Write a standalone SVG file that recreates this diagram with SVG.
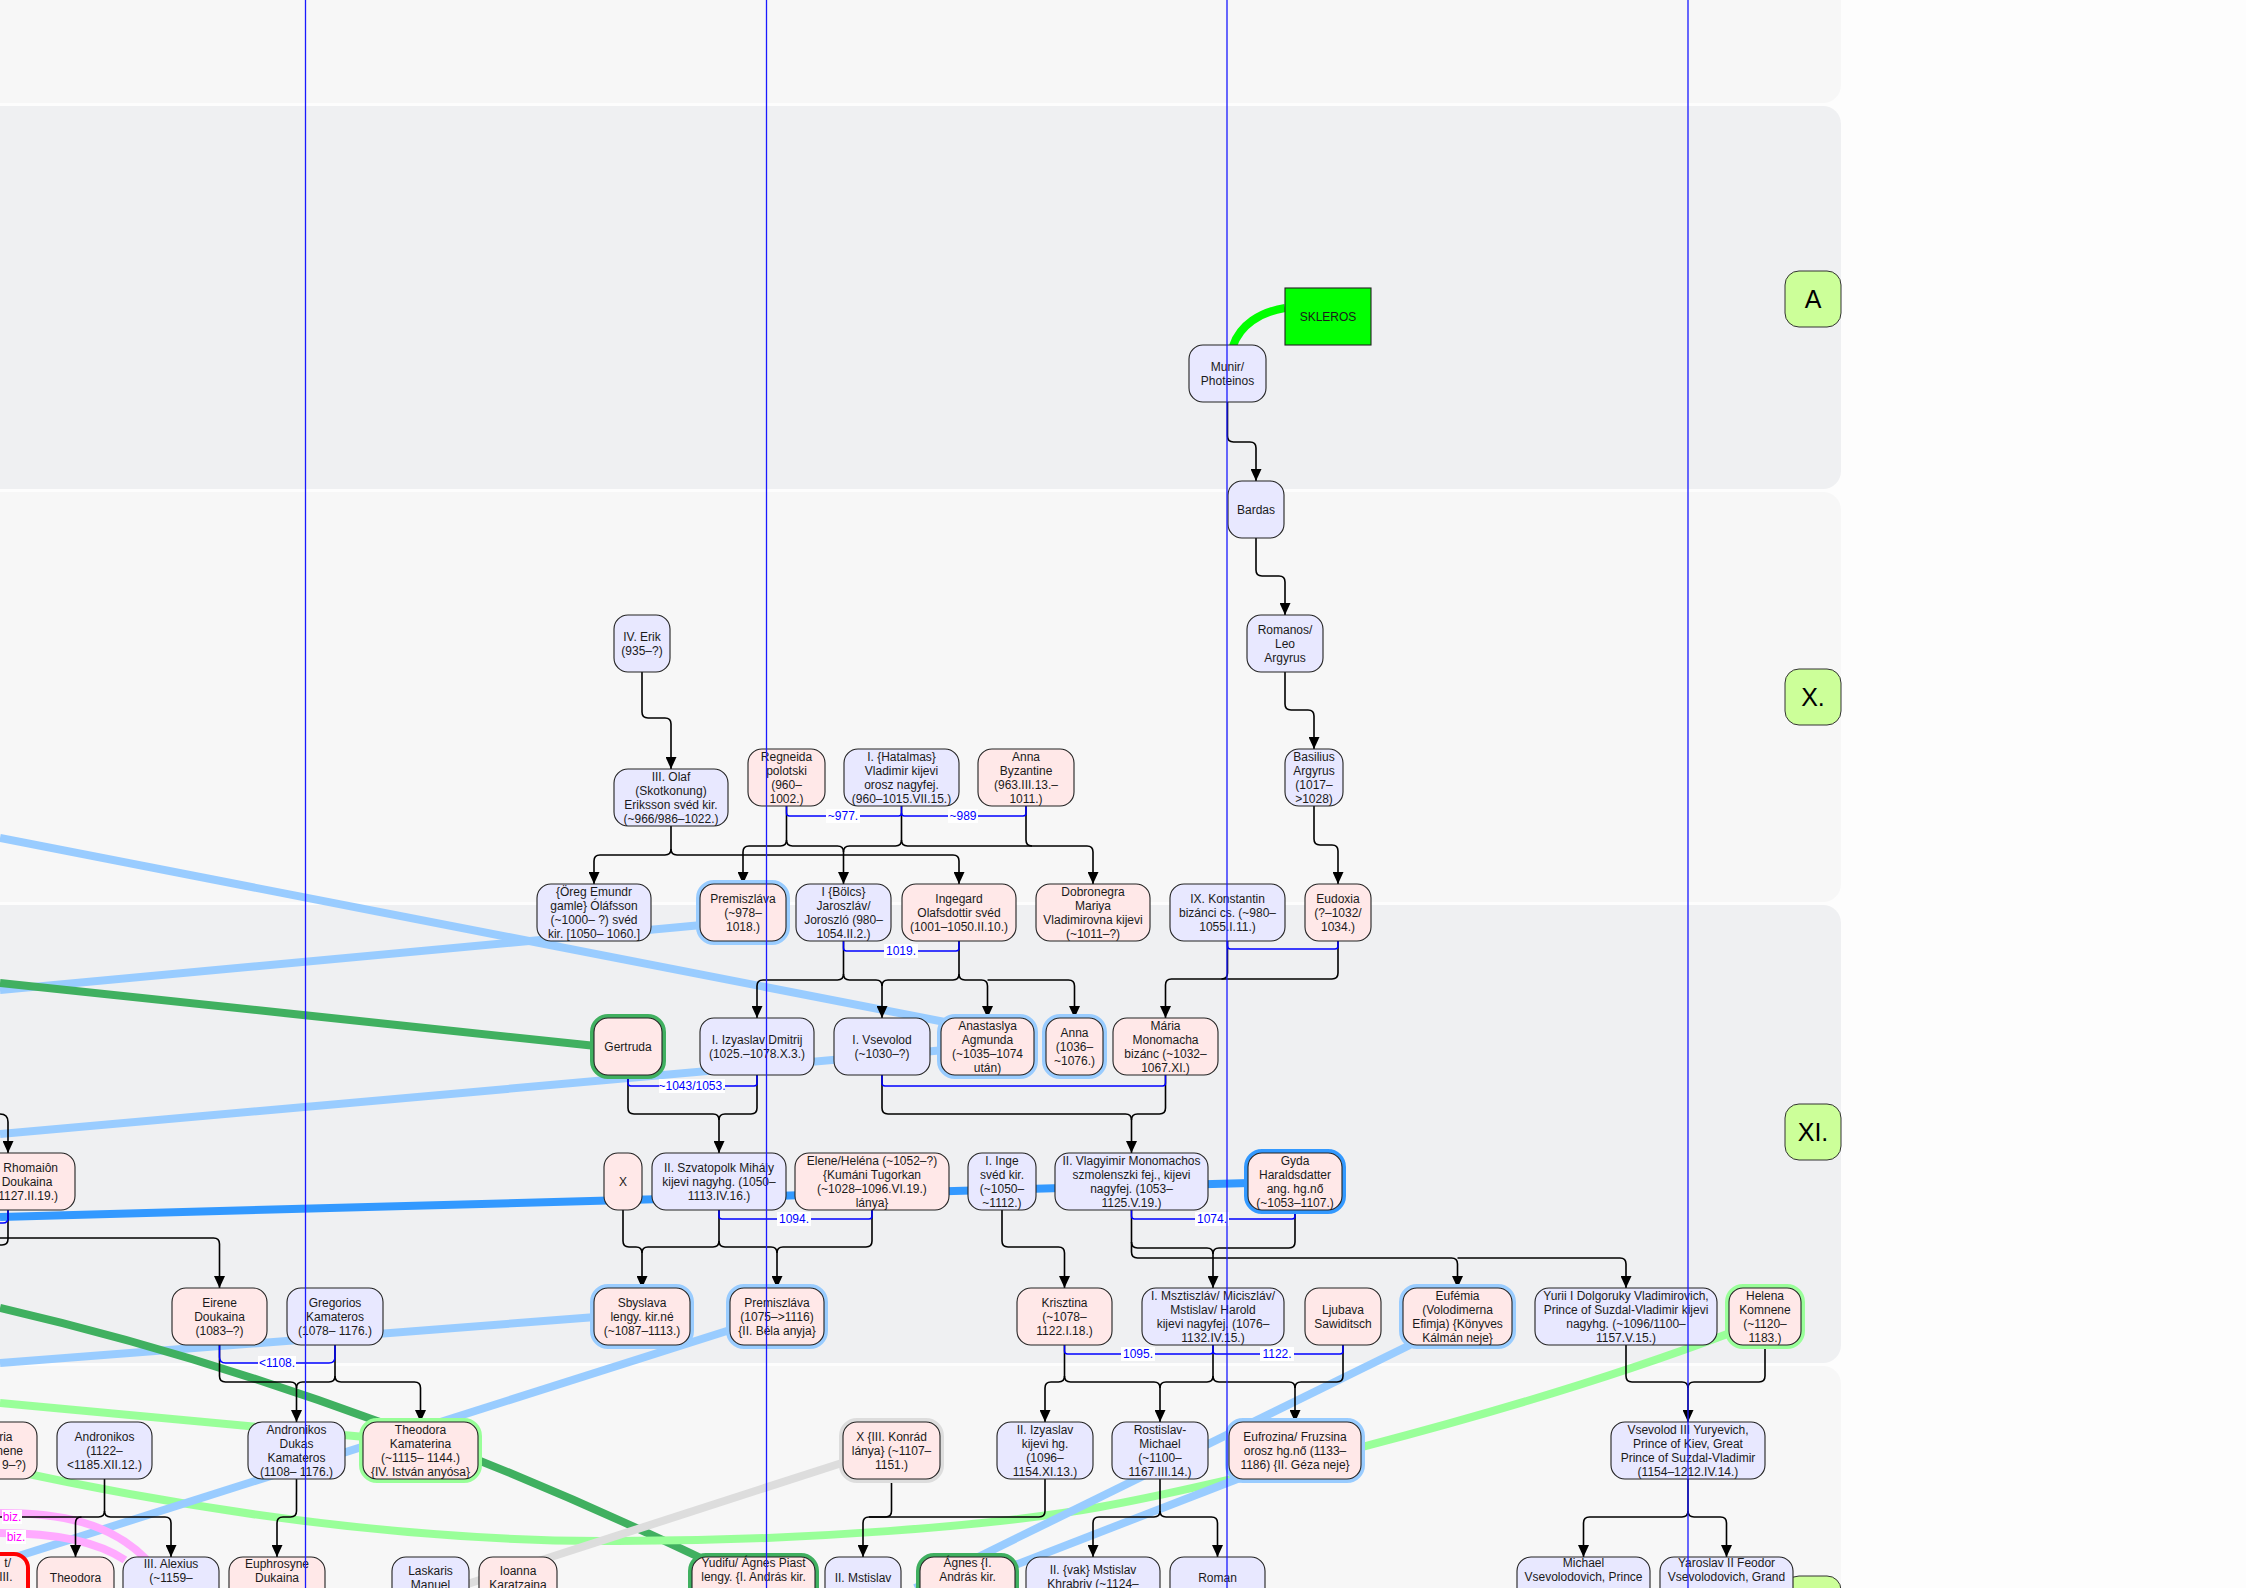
<svg xmlns="http://www.w3.org/2000/svg" width="2246" height="1588" viewBox="0 0 2246 1588">
<defs>
<marker id="arr" viewBox="0 0 12 11" refX="12" refY="5.5" markerWidth="12" markerHeight="11" markerUnits="userSpaceOnUse" orient="auto"><path d="M0,0 L12,5.5 L0,11 z" fill="#000"/></marker>
<style>
.band1{fill:#f7f7f7}.band2{fill:#eff0f2}
.gen{fill:#ccff99;stroke:#333;stroke-width:1}
.gent{font-family:"Liberation Sans",Arial,sans-serif;font-size:25px;fill:#000;text-anchor:middle}
.m{fill:#e8e8ff;stroke:#222;stroke-width:1.1}
.f{fill:#ffe8e8;stroke:#222;stroke-width:1.1}
.t{font-family:"Liberation Sans",Arial,sans-serif;font-size:12px;fill:#1a1a1a;text-anchor:middle}
.te{text-anchor:end}
.hlb{fill:none;stroke:#99ccff;stroke-width:8}
.hbb{fill:none;stroke:#3399ff;stroke-width:8}
.hdg{fill:none;stroke:#40b060;stroke-width:8}
.hlg{fill:none;stroke:#99ff99;stroke-width:8}
.hgr{fill:none;stroke:#dddddd;stroke-width:8}
.c{fill:none;stroke:#000;stroke-width:1.6}
.ca{fill:none;stroke:#000;stroke-width:1.6;marker-end:url(#arr)}
.mar{fill:none;stroke:#0000ff;stroke-width:1.5}
.ml{font-family:"Liberation Sans",Arial,sans-serif;font-size:12px;fill:#0000ff;text-anchor:middle}
.mlb{fill:#fff}
.thk{fill:none;stroke-width:8;stroke-linecap:butt}
.vl{stroke:#1a1aff;stroke-width:1.3}
</style>
</defs>
<rect x="0" y="0" width="2246" height="1588" fill="#fdfdfd"/>
<g id="bands">
<rect class="band1" x="-30" y="-30" width="1871" height="133" rx="18"/>
<rect class="band2" x="-30" y="106" width="1871" height="383" rx="18"/>
<rect class="band1" x="-30" y="492" width="1871" height="410" rx="18"/>
<rect class="band2" x="-30" y="905" width="1871" height="458" rx="18"/>
<rect class="band1" x="-30" y="1366" width="1871" height="260" rx="18"/>
</g>
<g id="generations">
<g id="gen-A"><rect class="gen" x="1785" y="271" width="56" height="56" rx="14"/><text class="gent" x="1813" y="308">A</text></g>
<g id="gen-X"><rect class="gen" x="1785" y="669" width="56" height="56" rx="14"/><text class="gent" x="1813" y="706">X.</text></g>
<g id="gen-XI"><rect class="gen" x="1785" y="1104" width="56" height="56" rx="14"/><text class="gent" x="1813" y="1141">XI.</text></g>
<g id="gen-XII"><rect class="gen" x="1785" y="1576" width="56" height="56" rx="14"/></g>
</g>
<g id="crosslinks">
<path class="thk" stroke="#99ccff" d="M0,838 L945,1022"/>
<path class="thk" stroke="#99ccff" d="M0,990 L702,925"/>
<path class="thk" stroke="#99ccff" d="M0,1134 L945,1050"/>
<path class="thk" stroke="#40b060" d="M0,983 L596,1046"/>
<path class="thk" stroke="#3399ff" stroke-width="9" d="M0,1217 L1250,1183"/>
<path class="thk" stroke="#99ccff" d="M0,1363 L596,1317"/>
<path class="thk" stroke="#99ff99" d="M0,1403 L365,1437"/>
<path class="thk" stroke="#40b060" d="M0,1308 Q346,1388 705,1560"/>
<path class="thk" stroke="#99ff99" d="M0,1468 C200,1512 400,1540 600,1541 S1000,1525 1100,1507 S1500,1420 1730,1333"/>
<path class="thk" stroke="#99ccff" d="M0,1562 L730,1330"/>
<path class="thk" stroke="#99ccff" d="M1410,1345 L915,1588"/>
<path class="thk" stroke="#99ccff" d="M1240,1478 L1010,1567"/>
<path class="thk" stroke="#dddddd" d="M845,1462 L455,1588"/>
<path class="thk" stroke="#ffaaff" d="M0,1513 C60,1513 110,1522 147,1560"/>
<path class="thk" stroke="#ffaaff" d="M0,1533 C50,1533 95,1540 125,1560"/>
<path class="thk" stroke="#00ff00" d="M1233,346 C1240,325 1260,312 1285,308"/>
</g>
<g id="connectors">
<path class="ca" d="M1227.5,402 V436 Q1227.5,442 1233.5,442 H1250 Q1256,442 1256,448 V481"/>
<path class="ca" d="M1256,538 V570 Q1256,576 1262,576 H1279 Q1285,576 1285,582 V615"/>
<path class="ca" d="M1285,672 V704 Q1285,710 1291,710 H1308 Q1314,710 1314,716 V749"/>
<path class="ca" d="M1314,806 V839 Q1314,845 1320,845 H1332 Q1338,845 1338,851 V884"/>
<path class="ca" d="M642,672 V712 Q642,718 648,718 H665 Q671,718 671,724 V769"/>
<path class="ca" d="M671,826 V849 Q671,855 665,855 H600 Q594,855 594,861 V884"/>
<path class="ca" d="M671,849 Q671,855 677,855 H953 Q959,855 959,861 V884"/>
<path class="ca" d="M786.5,806 V840 Q786.5,846 780.5,846 H749 Q743,846 743,852 V884"/>
<path class="ca" d="M786.5,840 Q786.5,846 792.5,846 H837.5 Q843.5,846 843.5,852 V884"/>
<path class="c" d="M901.5,806 V840 Q901.5,846 895.5,846 H849.5 Q843.5,846 843.5,852"/>
<path class="ca" d="M901.5,840 Q901.5,846 907.5,846 H1087 Q1093,846 1093,852 V884"/>
<path class="c" d="M1026,806 V840 Q1026,846 1032,846"/>
<path class="ca" d="M843.5,941 V974 Q843.5,980 837.5,980 H763 Q757,980 757,986 V1018"/>
<path class="ca" d="M843.5,974 Q843.5,980 849.5,980 H876 Q882,980 882,986 V1018"/>
<path class="c" d="M959,941 V974 Q959,980 953,980 H888 Q882,980 882,986"/>
<path class="ca" d="M959,974 Q959,980 965,980 H981.5 Q987.5,980 987.5,986 V1018"/>
<path class="ca" d="M987.5,980 H1068.5 Q1074.5,980 1074.5,986 V1018"/>
<path class="ca" d="M1338,941 V973 Q1338,979 1332,979 H1171.5 Q1165.5,979 1165.5,985 V1018"/>
<path class="c" d="M1227.5,941 V973 Q1227.5,979 1221.5,979"/>
<path class="ca" d="M628,1075 V1108 Q628,1114 634,1114 H713 Q719,1114 719,1120 V1153"/>
<path class="c" d="M757,1075 V1108 Q757,1114 751,1114 H725 Q719,1114 719,1120"/>
<path class="ca" d="M882,1075 V1108 Q882,1114 888,1114 H1125.5 Q1131.5,1114 1131.5,1120 V1153"/>
<path class="c" d="M1165.5,1075 V1108 Q1165.5,1114 1159.5,1114 H1137.5 Q1131.5,1114 1131.5,1120"/>
<path class="ca" d="M623,1210 V1241 Q623,1247 629,1247 H636 Q642,1247 642,1253 V1288"/>
<path class="c" d="M719,1210 V1241 Q719,1247 713,1247 H648 Q642,1247 642,1253"/>
<path class="ca" d="M719,1241 Q719,1247 725,1247 H771 Q777,1247 777,1253 V1288"/>
<path class="c" d="M872,1210 V1241 Q872,1247 866,1247 H783 Q777,1247 777,1253"/>
<path class="ca" d="M1002,1210 V1241 Q1002,1247 1008,1247 H1058.5 Q1064.5,1247 1064.5,1253 V1288"/>
<path class="ca" d="M1131.5,1210 V1242 Q1131.5,1248 1137.5,1248 H1207 Q1213,1248 1213,1254 V1288"/>
<path class="c" d="M1295,1210 V1242 Q1295,1248 1289,1248 H1219 Q1213,1248 1213,1254"/>
<path class="ca" d="M1131.5,1242 V1252 Q1131.5,1258 1137.5,1258 H1451.5 Q1457.5,1258 1457.5,1264 V1288"/>
<path class="ca" d="M1457.5,1258 H1620 Q1626,1258 1626,1264 V1288"/>
<path class="ca" d="M0,1114 Q8,1114 8,1122 V1153"/>
<path class="c" d="M8,1210 V1239 Q8,1245 2,1245 H0"/>
<path class="ca" d="M0,1238 H213.5 Q219.5,1238 219.5,1244 V1288"/>
<path class="ca" d="M219.5,1345 V1376 Q219.5,1382 225.5,1382 H290.5 Q296.5,1382 296.5,1388 V1422"/>
<path class="c" d="M335,1345 V1376 Q335,1382 329,1382 H302.5 Q296.5,1382 296.5,1388"/>
<path class="ca" d="M335,1376 Q335,1382 341,1382 H414.5 Q420.5,1382 420.5,1388 V1422"/>
<path class="ca" d="M1064.5,1345 V1376 Q1064.5,1382 1058.5,1382 H1051 Q1045,1382 1045,1388 V1422"/>
<path class="ca" d="M1064.5,1376 Q1064.5,1382 1070.5,1382 H1154 Q1160,1382 1160,1388 V1422"/>
<path class="c" d="M1213,1345 V1376 Q1213,1382 1207,1382 H1166 Q1160,1382 1160,1388"/>
<path class="ca" d="M1213,1376 Q1213,1382 1219,1382 H1289 Q1295,1382 1295,1388 V1422"/>
<path class="c" d="M1343,1345 V1376 Q1343,1382 1337,1382 H1301 Q1295,1382 1295,1388"/>
<path class="ca" d="M1626,1345 V1376 Q1626,1382 1632,1382 H1682 Q1688,1382 1688,1388 V1422"/>
<path class="c" d="M1765,1345 V1376 Q1765,1382 1759,1382 H1694 Q1688,1382 1688,1388"/>
<path class="ca" d="M104.5,1479 V1511 Q104.5,1517 98.5,1517 H81.5 Q75.5,1517 75.5,1523 V1557"/>
<path class="ca" d="M104.5,1511 Q104.5,1517 110.5,1517 H165 Q171,1517 171,1523 V1557"/>
<path class="c" d="M0,1517 H81.5"/>
<path class="ca" d="M296.5,1479 V1511 Q296.5,1517 290.5,1517 H283 Q277,1517 277,1523 V1557"/>
<path class="ca" d="M891.5,1479 V1511 Q891.5,1517 885.5,1517 H869 Q863,1517 863,1523 V1557"/>
<path class="c" d="M1045,1479 V1511 Q1045,1517 1039,1517 H869"/>
<path class="ca" d="M1160,1479 V1511 Q1160,1517 1154,1517 H1099 Q1093,1517 1093,1523 V1557"/>
<path class="ca" d="M1160,1511 Q1160,1517 1166,1517 H1211.5 Q1217.5,1517 1217.5,1523 V1557"/>
<path class="ca" d="M1688,1479 V1511 Q1688,1517 1682,1517 H1589.5 Q1583.5,1517 1583.5,1523 V1557"/>
<path class="ca" d="M1688,1511 Q1688,1517 1694,1517 H1720.5 Q1726.5,1517 1726.5,1523 V1557"/>
<path class="mar" d="M786.5,806 V813 Q786.5,816 789.5,816 H898.5 Q901.5,816 901.5,813 V806"/>
<path class="mar" d="M901.5,813 Q901.5,816 904.5,816 H1023 Q1026,816 1026,813 V806"/>
<path class="mar" d="M843.5,941 V948 Q843.5,951 846.5,951 H956 Q959,951 959,948 V941"/>
<path class="mar" d="M1227.5,941 V946 Q1227.5,949 1230.5,949 H1335 Q1338,949 1338,946 V941"/>
<path class="mar" d="M628,1075 V1083 Q628,1086 631,1086 H754 Q757,1086 757,1083 V1075"/>
<path class="mar" d="M882,1075 V1083 Q882,1086 885,1086 H1162.5 Q1165.5,1086 1165.5,1083 V1075"/>
<path class="mar" d="M719,1210 V1216 Q719,1219 722,1219 H869 Q872,1219 872,1216 V1210"/>
<path class="mar" d="M1131.5,1210 V1216 Q1131.5,1219 1134.5,1219 H1292 Q1295,1219 1295,1216 V1210"/>
<path class="mar" d="M8,1210 V1218 Q8,1223 3,1223 H0"/>
<path class="mar" d="M219.5,1345 V1357 Q219.5,1363 225.5,1363 H329 Q335,1363 335,1357 V1345"/>
<path class="mar" d="M1064.5,1345 V1351 Q1064.5,1354 1067.5,1354 H1210 Q1213,1354 1213,1351 V1345"/>
<path class="mar" d="M1213,1351 Q1213,1354 1216,1354 H1340 Q1343,1354 1343,1351 V1345"/>
<g id="marriage-labels">
<rect class="mlb" x="826" y="809" width="34" height="14"/><text class="ml" x="843" y="820">~977.</text>
<rect class="mlb" x="948" y="809" width="30" height="14"/><text class="ml" x="963" y="820">~989</text>
<rect class="mlb" x="884" y="944" width="34" height="14"/><text class="ml" x="901" y="955">1019.</text>
<rect class="mlb" x="659" y="1079" width="66" height="14"/><text class="ml" x="692" y="1090">~1043/1053.</text>
<rect class="mlb" x="777" y="1212" width="34" height="14"/><text class="ml" x="794" y="1223">1094.</text>
<rect class="mlb" x="1195" y="1212" width="34" height="14"/><text class="ml" x="1212" y="1223">1074.</text>
<rect class="mlb" x="1121" y="1347" width="34" height="14"/><text class="ml" x="1138" y="1358">1095.</text>
<rect class="mlb" x="1260" y="1347" width="34" height="14"/><text class="ml" x="1277" y="1358">1122.</text>
<rect class="mlb" x="258" y="1356" width="38" height="14"/><text class="ml" x="277" y="1367">&lt;1108.</text>
<rect class="mlb" x="2" y="1510" width="20" height="14"/><text class="ml" x="12" y="1521" fill="#ff00ff" style="fill:#ff00ff">biz.</text>
<rect class="mlb" x="6" y="1530" width="20" height="14"/><text class="ml" x="16" y="1541" style="fill:#ff00ff">biz.</text>
</g>
</g>
<g id="nodes">
<g id="n-skleros"><rect x="1285" y="288" width="86" height="57" fill="#00ff00" stroke="#222" stroke-width="1.1"/><text class="t" x="1328" y="320.5">SKLEROS</text></g>
<g id="n-munir"><rect class="m" x="1189" y="345" width="77" height="57" rx="14"/><text class="t"><tspan x="1227.5" y="370.5">Munir/</tspan><tspan x="1227.5" y="384.5">Photeinos</tspan></text></g>
<g id="n-bardas"><rect class="m" x="1228" y="481" width="56" height="57" rx="14"/><text class="t" x="1256" y="513.5">Bardas</text></g>
<g id="n-romanos"><rect class="m" x="1247" y="615" width="76" height="57" rx="14"/><text class="t"><tspan x="1285" y="633.5">Romanos/</tspan><tspan x="1285" y="647.5">Leo</tspan><tspan x="1285" y="661.5">Argyrus</tspan></text></g>
<g id="n-erik"><rect class="m" x="614" y="615" width="56" height="57" rx="14"/><text class="t"><tspan x="642" y="640.5">IV. Erik</tspan><tspan x="642" y="654.5">(935–?)</tspan></text></g>
<g id="n-basilius"><rect class="m" x="1285" y="749" width="58" height="57" rx="14"/><text class="t"><tspan x="1314" y="760.5">Basilius</tspan><tspan x="1314" y="774.5">Argyrus</tspan><tspan x="1314" y="788.5">(1017–</tspan><tspan x="1314" y="802.5">&gt;1028)</tspan></text></g>
<g id="n-olaf"><rect class="m" x="614" y="769" width="114" height="57" rx="14"/><text class="t"><tspan x="671" y="780.5">III. Olaf</tspan><tspan x="671" y="794.5">(Skotkonung)</tspan><tspan x="671" y="808.5">Eriksson svéd kir.</tspan><tspan x="671" y="822.5">(~966/986–1022.)</tspan></text></g>
<g id="n-regneida"><rect class="f" x="748" y="749" width="77" height="57" rx="14"/><text class="t"><tspan x="786.5" y="760.5">Regneida</tspan><tspan x="786.5" y="774.5">polotski</tspan><tspan x="786.5" y="788.5">(960–</tspan><tspan x="786.5" y="802.5">1002.)</tspan></text></g>
<g id="n-vladimir"><rect class="m" x="844" y="749" width="115" height="57" rx="14"/><text class="t"><tspan x="901.5" y="760.5">I. {Hatalmas}</tspan><tspan x="901.5" y="774.5">Vladimir kijevi</tspan><tspan x="901.5" y="788.5">orosz nagyfej.</tspan><tspan x="901.5" y="802.5">(960–1015.VII.15.)</tspan></text></g>
<g id="n-annabyz"><rect class="f" x="978" y="749" width="96" height="57" rx="14"/><text class="t"><tspan x="1026" y="760.5">Anna</tspan><tspan x="1026" y="774.5">Byzantine</tspan><tspan x="1026" y="788.5">(963.III.13.–</tspan><tspan x="1026" y="802.5">1011.)</tspan></text></g>
<g id="n-oreg"><rect class="m" x="537" y="884" width="114" height="57" rx="14"/><text class="t"><tspan x="594" y="895.5">{Öreg Emundr</tspan><tspan x="594" y="909.5">gamle} Óláfsson</tspan><tspan x="594" y="923.5">(~1000– ?) svéd</tspan><tspan x="594" y="937.5">kir. [1050– 1060.]</tspan></text></g>
<g id="n-premiszlava1"><rect class="hlb" x="700" y="884" width="86" height="57" rx="14"/><rect class="f" x="700" y="884" width="86" height="57" rx="14"/><text class="t"><tspan x="743" y="902.5">Premiszláva</tspan><tspan x="743" y="916.5">(~978–</tspan><tspan x="743" y="930.5">1018.)</tspan></text></g>
<g id="n-bolcs"><rect class="m" x="796" y="884" width="95" height="57" rx="14"/><text class="t"><tspan x="843.5" y="895.5">I {Bölcs}</tspan><tspan x="843.5" y="909.5">Jaroszláv/</tspan><tspan x="843.5" y="923.5">Joroszló (980–</tspan><tspan x="843.5" y="937.5">1054.II.2.)</tspan></text></g>
<g id="n-ingegard"><rect class="f" x="902" y="884" width="114" height="57" rx="14"/><text class="t"><tspan x="959" y="902.5">Ingegard</tspan><tspan x="959" y="916.5">Olafsdottir svéd</tspan><tspan x="959" y="930.5">(1001–1050.II.10.)</tspan></text></g>
<g id="n-dobronegra"><rect class="f" x="1036" y="884" width="114" height="57" rx="14"/><text class="t"><tspan x="1093" y="895.5">Dobronegra</tspan><tspan x="1093" y="909.5">Mariya</tspan><tspan x="1093" y="923.5">Vladimirovna kijevi</tspan><tspan x="1093" y="937.5">(~1011–?)</tspan></text></g>
<g id="n-konstantin"><rect class="m" x="1170" y="884" width="115" height="57" rx="14"/><text class="t"><tspan x="1227.5" y="902.5">IX. Konstantin</tspan><tspan x="1227.5" y="916.5">bizánci cs. (~980–</tspan><tspan x="1227.5" y="930.5">1055.I.11.)</tspan></text></g>
<g id="n-eudoxia"><rect class="f" x="1305" y="884" width="66" height="57" rx="14"/><text class="t"><tspan x="1338" y="902.5">Eudoxia</tspan><tspan x="1338" y="916.5">(?–1032/</tspan><tspan x="1338" y="930.5">1034.)</tspan></text></g>
<g id="n-gertruda"><rect class="hdg" x="594" y="1018" width="68" height="57" rx="14"/><rect class="f" x="594" y="1018" width="68" height="57" rx="14"/><text class="t" x="628" y="1050.5">Gertruda</text></g>
<g id="n-izyaslav1"><rect class="m" x="700" y="1018" width="114" height="57" rx="14"/><text class="t"><tspan x="757" y="1043.5">I. Izyaslav Dmitrij</tspan><tspan x="757" y="1057.5">(1025.–1078.X.3.)</tspan></text></g>
<g id="n-vsevolod1"><rect class="m" x="834" y="1018" width="96" height="57" rx="14"/><text class="t"><tspan x="882" y="1043.5">I. Vsevolod</tspan><tspan x="882" y="1057.5">(~1030–?)</tspan></text></g>
<g id="n-anastaslya"><rect class="hlb" x="941" y="1018" width="93" height="57" rx="14"/><rect class="f" x="941" y="1018" width="93" height="57" rx="14"/><text class="t"><tspan x="987.5" y="1029.5">Anastaslya</tspan><tspan x="987.5" y="1043.5">Agmunda</tspan><tspan x="987.5" y="1057.5">(~1035–1074</tspan><tspan x="987.5" y="1071.5">után)</tspan></text></g>
<g id="n-anna2"><rect class="hlb" x="1046" y="1018" width="57" height="57" rx="14"/><rect class="f" x="1046" y="1018" width="57" height="57" rx="14"/><text class="t"><tspan x="1074.5" y="1036.5">Anna</tspan><tspan x="1074.5" y="1050.5">(1036–</tspan><tspan x="1074.5" y="1064.5">~1076.)</tspan></text></g>
<g id="n-maria"><rect class="f" x="1113" y="1018" width="105" height="57" rx="14"/><text class="t"><tspan x="1165.5" y="1029.5">Mária</tspan><tspan x="1165.5" y="1043.5">Monomacha</tspan><tspan x="1165.5" y="1057.5">bizánc (~1032–</tspan><tspan x="1165.5" y="1071.5">1067.XI.)</tspan></text></g>
<g id="n-rhomaion"><rect class="f" x="-22" y="1153" width="97" height="57" rx="14"/><text class="t"><tspan class="te" x="58" y="1171.5">Rhomaiôn</tspan><tspan x="27" y="1185.5">Doukaina</tspan><tspan class="te" x="58" y="1199.5">1127.II.19.)</tspan></text></g>
<g id="n-x"><rect class="f" x="604" y="1153" width="38" height="57" rx="14"/><text class="t" x="623" y="1185.5">X</text></g>
<g id="n-szvatopolk"><rect class="m" x="652" y="1153" width="134" height="57" rx="14"/><text class="t"><tspan x="719" y="1171.5">II. Szvatopolk Mihály</tspan><tspan x="719" y="1185.5">kijevi nagyhg. (1050–</tspan><tspan x="719" y="1199.5">1113.IV.16.)</tspan></text></g>
<g id="n-elene"><rect class="f" x="795" y="1153" width="154" height="57" rx="14"/><text class="t"><tspan x="872" y="1164.5">Elene/Heléna (~1052–?)</tspan><tspan x="872" y="1178.5">{Kumáni Tugorkan</tspan><tspan x="872" y="1192.5">(~1028–1096.VI.19.)</tspan><tspan x="872" y="1206.5">lánya}</tspan></text></g>
<g id="n-inge"><rect class="m" x="968" y="1153" width="68" height="57" rx="14"/><text class="t"><tspan x="1002" y="1164.5">I. Inge</tspan><tspan x="1002" y="1178.5">svéd kir.</tspan><tspan x="1002" y="1192.5">(~1050–</tspan><tspan x="1002" y="1206.5">~1112.)</tspan></text></g>
<g id="n-vlagyimir"><rect class="m" x="1055" y="1153" width="153" height="57" rx="14"/><text class="t"><tspan x="1131.5" y="1164.5">II. Vlagyimir Monomachos</tspan><tspan x="1131.5" y="1178.5">szmolenszki fej., kijevi</tspan><tspan x="1131.5" y="1192.5">nagyfej. (1053–</tspan><tspan x="1131.5" y="1206.5">1125.V.19.)</tspan></text></g>
<g id="n-gyda"><rect class="hbb" x="1248" y="1153" width="94" height="57" rx="14"/><rect class="f" x="1248" y="1153" width="94" height="57" rx="14"/><text class="t"><tspan x="1295" y="1164.5">Gyda</tspan><tspan x="1295" y="1178.5">Haraldsdatter</tspan><tspan x="1295" y="1192.5">ang. hg.nő</tspan><tspan x="1295" y="1206.5">(~1053–1107.)</tspan></text></g>
<g id="n-eirene"><rect class="f" x="172" y="1288" width="95" height="57" rx="14"/><text class="t"><tspan x="219.5" y="1306.5">Eirene</tspan><tspan x="219.5" y="1320.5">Doukaina</tspan><tspan x="219.5" y="1334.5">(1083–?)</tspan></text></g>
<g id="n-gregorios"><rect class="m" x="287" y="1288" width="96" height="57" rx="14"/><text class="t"><tspan x="335" y="1306.5">Gregorios</tspan><tspan x="335" y="1320.5">Kamateros</tspan><tspan x="335" y="1334.5">(1078– 1176.)</tspan></text></g>
<g id="n-sbyslava"><rect class="hlb" x="594" y="1288" width="96" height="57" rx="14"/><rect class="f" x="594" y="1288" width="96" height="57" rx="14"/><text class="t"><tspan x="642" y="1306.5">Sbyslava</tspan><tspan x="642" y="1320.5">lengy. kir.né</tspan><tspan x="642" y="1334.5">(~1087–1113.)</tspan></text></g>
<g id="n-premiszlava2"><rect class="hlb" x="730" y="1288" width="94" height="57" rx="14"/><rect class="f" x="730" y="1288" width="94" height="57" rx="14"/><text class="t"><tspan x="777" y="1306.5">Premiszláva</tspan><tspan x="777" y="1320.5">(1075–&gt;1116)</tspan><tspan x="777" y="1334.5">{II. Béla anyja}</tspan></text></g>
<g id="n-krisztina"><rect class="f" x="1017" y="1288" width="95" height="57" rx="14"/><text class="t"><tspan x="1064.5" y="1306.5">Krisztina</tspan><tspan x="1064.5" y="1320.5">(~1078–</tspan><tspan x="1064.5" y="1334.5">1122.I.18.)</tspan></text></g>
<g id="n-mstislav1"><rect class="m" x="1142" y="1288" width="142" height="57" rx="14"/><text class="t"><tspan x="1213" y="1299.5">I. Msztiszláv/ Miciszláv/</tspan><tspan x="1213" y="1313.5">Mstislav/ Harold</tspan><tspan x="1213" y="1327.5">kijevi nagyfej. (1076–</tspan><tspan x="1213" y="1341.5">1132.IV.15.)</tspan></text></g>
<g id="n-ljubava"><rect class="f" x="1305" y="1288" width="76" height="57" rx="14"/><text class="t"><tspan x="1343" y="1313.5">Ljubava</tspan><tspan x="1343" y="1327.5">Sawiditsch</tspan></text></g>
<g id="n-eufemia"><rect class="hlb" x="1403" y="1288" width="109" height="57" rx="14"/><rect class="f" x="1403" y="1288" width="109" height="57" rx="14"/><text class="t"><tspan x="1457.5" y="1299.5">Eufémia</tspan><tspan x="1457.5" y="1313.5">(Volodimerna</tspan><tspan x="1457.5" y="1327.5">Efimja) {Könyves</tspan><tspan x="1457.5" y="1341.5">Kálmán neje}</tspan></text></g>
<g id="n-yurii"><rect class="m" x="1535" y="1288" width="182" height="57" rx="14"/><text class="t"><tspan x="1626" y="1299.5">Yurii I Dolgoruky Vladimirovich,</tspan><tspan x="1626" y="1313.5">Prince of Suzdal-Vladimir kijevi</tspan><tspan x="1626" y="1327.5">nagyhg. (~1096/1100–</tspan><tspan x="1626" y="1341.5">1157.V.15.)</tspan></text></g>
<g id="n-helena"><rect class="hlg" x="1729" y="1288" width="72" height="57" rx="14"/><rect class="f" x="1729" y="1288" width="72" height="57" rx="14"/><text class="t"><tspan x="1765" y="1299.5">Helena</tspan><tspan x="1765" y="1313.5">Komnene</tspan><tspan x="1765" y="1327.5">(~1120–</tspan><tspan x="1765" y="1341.5">1183.)</tspan></text></g>
<g id="n-maria2"><rect class="f" x="-37" y="1422" width="74" height="57" rx="14"/><text class="t"><tspan class="te" x="12.5" y="1440.5">ria</tspan><tspan class="te" x="23" y="1454.5">nene</tspan><tspan class="te" x="26" y="1468.5">9–?)</tspan></text></g>
<g id="n-andronikos"><rect class="m" x="57" y="1422" width="95" height="57" rx="14"/><text class="t"><tspan x="104.5" y="1440.5">Andronikos</tspan><tspan x="104.5" y="1454.5">(1122–</tspan><tspan x="104.5" y="1468.5">&lt;1185.XII.12.)</tspan></text></g>
<g id="n-adukas"><rect class="m" x="248" y="1422" width="97" height="57" rx="14"/><text class="t"><tspan x="296.5" y="1433.5">Andronikos</tspan><tspan x="296.5" y="1447.5">Dukas</tspan><tspan x="296.5" y="1461.5">Kamateros</tspan><tspan x="296.5" y="1475.5">(1108– 1176.)</tspan></text></g>
<g id="n-theodorak"><rect class="hlg" x="363" y="1422" width="115" height="57" rx="14"/><rect class="f" x="363" y="1422" width="115" height="57" rx="14"/><text class="t"><tspan x="420.5" y="1433.5">Theodora</tspan><tspan x="420.5" y="1447.5">Kamaterina</tspan><tspan x="420.5" y="1461.5">(~1115– 1144.)</tspan><tspan x="420.5" y="1475.5">{IV. István anyósa}</tspan></text></g>
<g id="n-xkonrad"><rect class="hgr" x="843" y="1422" width="97" height="57" rx="14"/><rect class="f" x="843" y="1422" width="97" height="57" rx="14"/><text class="t"><tspan x="891.5" y="1440.5">X {III. Konrád</tspan><tspan x="891.5" y="1454.5">lánya} (~1107–</tspan><tspan x="891.5" y="1468.5">1151.)</tspan></text></g>
<g id="n-izyaslav2"><rect class="m" x="997" y="1422" width="96" height="57" rx="14"/><text class="t"><tspan x="1045" y="1433.5">II. Izyaslav</tspan><tspan x="1045" y="1447.5">kijevi hg.</tspan><tspan x="1045" y="1461.5">(1096–</tspan><tspan x="1045" y="1475.5">1154.XI.13.)</tspan></text></g>
<g id="n-rostislav"><rect class="m" x="1112" y="1422" width="96" height="57" rx="14"/><text class="t"><tspan x="1160" y="1433.5">Rostislav-</tspan><tspan x="1160" y="1447.5">Michael</tspan><tspan x="1160" y="1461.5">(~1100–</tspan><tspan x="1160" y="1475.5">1167.III.14.)</tspan></text></g>
<g id="n-eufrozina"><rect class="hlb" x="1229" y="1422" width="132" height="57" rx="14"/><rect class="f" x="1229" y="1422" width="132" height="57" rx="14"/><text class="t"><tspan x="1295" y="1440.5">Eufrozina/ Fruzsina</tspan><tspan x="1295" y="1454.5">orosz hg.nő (1133–</tspan><tspan x="1295" y="1468.5">1186) {II. Géza neje}</tspan></text></g>
<g id="n-vsevolod3"><rect class="m" x="1611" y="1422" width="154" height="57" rx="14"/><text class="t"><tspan x="1688" y="1433.5">Vsevolod III Yuryevich,</tspan><tspan x="1688" y="1447.5">Prince of Kiev, Great</tspan><tspan x="1688" y="1461.5">Prince of Suzdal-Vladimir</tspan><tspan x="1688" y="1475.5">(1154–1212.IV.14.)</tspan></text></g>
<g id="n-red"><rect x="-70" y="1554" width="98" height="60" rx="14" fill="#ffe8e8" stroke="#ff0000" stroke-width="4"/><text class="t"><tspan class="te" x="11" y="1567">t/</tspan><tspan class="te" x="12.5" y="1581">III.</tspan></text></g>
<g id="n-theodora2"><rect class="f" x="37" y="1557" width="77" height="57" rx="14"/><text class="t" x="75.5" y="1582">Theodora</text></g>
<g id="n-alexius"><rect class="m" x="123" y="1557" width="96" height="57" rx="14"/><text class="t"><tspan x="171" y="1568">III. Alexius</tspan><tspan x="171" y="1582">(~1159–</tspan></text></g>
<g id="n-euphrosyne"><rect class="f" x="229" y="1557" width="96" height="57" rx="14"/><text class="t"><tspan x="277" y="1568">Euphrosyne</tspan><tspan x="277" y="1582">Dukaina</tspan></text></g>
<g id="n-laskaris"><rect class="m" x="392" y="1557" width="77" height="57" rx="14"/><text class="t"><tspan x="430.5" y="1575">Laskaris</tspan><tspan x="430.5" y="1589">Manuel</tspan></text></g>
<g id="n-ioanna"><rect class="f" x="479" y="1557" width="78" height="57" rx="14"/><text class="t"><tspan x="518" y="1575">Ioanna</tspan><tspan x="518" y="1589">Karatzaina</tspan></text></g>
<g id="n-yudifu"><rect class="hdg" x="692" y="1557" width="123" height="57" rx="14"/><rect class="f" x="692" y="1557" width="123" height="57" rx="14"/><text class="t"><tspan x="753.5" y="1567">Yudifu/ Ágnes Piast</tspan><tspan x="753.5" y="1581">lengy. {I. András kir.</tspan></text></g>
<g id="n-mstislav2"><rect class="m" x="825" y="1557" width="76" height="57" rx="14"/><text class="t" x="863" y="1582">II. Mstislav</text></g>
<g id="n-agnes"><rect class="hdg" x="920" y="1557" width="95" height="57" rx="14"/><rect class="f" x="920" y="1557" width="95" height="57" rx="14"/><text class="t"><tspan x="967.5" y="1567">Ágnes {I.</tspan><tspan x="967.5" y="1581">András kir.</tspan></text></g>
<g id="n-vak"><rect class="m" x="1026" y="1557" width="134" height="57" rx="14"/><text class="t"><tspan x="1093" y="1574">II. {vak} Mstislav</tspan><tspan x="1093" y="1588">Khrabriy (~1124–</tspan></text></g>
<g id="n-roman"><rect class="m" x="1170" y="1557" width="95" height="57" rx="14"/><text class="t" x="1217.5" y="1582">Roman</text></g>
<g id="n-michael"><rect class="m" x="1517" y="1557" width="133" height="57" rx="14"/><text class="t"><tspan x="1583.5" y="1567">Michael</tspan><tspan x="1583.5" y="1581">Vsevolodovich, Prince</tspan></text></g>
<g id="n-yaroslav"><rect class="m" x="1660" y="1557" width="133" height="57" rx="14"/><text class="t"><tspan x="1726.5" y="1567">Yaroslav II Feodor</tspan><tspan x="1726.5" y="1581">Vsevolodovich, Grand</tspan></text></g>
</g>
<g id="guides">
<line class="vl" x1="305.5" y1="0" x2="305.5" y2="1588"/>
<line class="vl" x1="766.5" y1="0" x2="766.5" y2="1588"/>
<line class="vl" x1="1227" y1="0" x2="1227" y2="1588"/>
<line class="vl" x1="1688" y1="0" x2="1688" y2="1588"/>
</g>
</svg>
